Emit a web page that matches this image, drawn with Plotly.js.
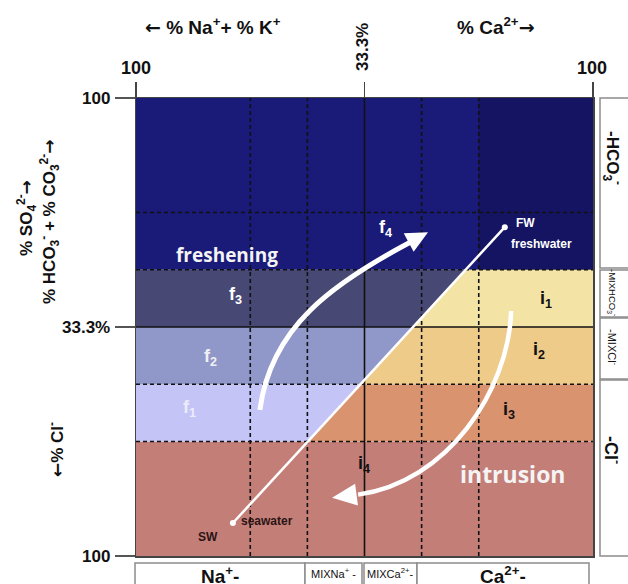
<!DOCTYPE html>
<html><head><meta charset="utf-8">
<script src="https://cdn.plot.ly/plotly-3.0.1.min.js"></script>
<style>html,body{margin:0;padding:0;background:#fff;} #chart{width:628px;height:584px;}</style>
</head><body><div id="chart"></div>
<script>
// ---- data (diagram scale 0..100; y: 0 = 100% Cl-, 100 = 100% HCO3-) ----
const bandEdges = [0, 25, 37.5, 50, 62.5, 100];
const freshLabels = ['f<sub>1</sub>', 'f<sub>2</sub>', 'f<sub>3</sub>', 'f<sub>4</sub>'];
const freshColors = ['#c4c4f6', '#9097c9', '#474873'];
const intrLabels = ['i<sub>4</sub>', 'i<sub>3</sub>', 'i<sub>2</sub>', 'i<sub>1</sub>'];
const intrColors = ['#d9936e', '#eecb89', '#f3e4a6'];
const topColor = '#1a1a78', topColorRight = '#141462', bottomColor = '#c47e78';
const gridDashed = [25, 37.5, 62.5, 75];
const gridSolid = [50];
const mixNames = ['SW', 'FW'];
const mixSub = ['seawater', 'freshwater'];
const mixX = [21.2, 80.7];
const mixY = [7.2, 71.8];
const cationBoxes = ['Na<sup>+</sup>-', 'MIXNa<sup>+</sup> -', 'MIXCa<sup>2+</sup>-', 'Ca<sup>2+</sup>-'];
const anionBoxes = ['-HCO<sub>3</sub><sup>-</sup>', '-MIXHCO<sub>3</sub><sup>-</sup>', '-MIXCl<sup>-</sup>', '-Cl<sup>-</sup>'];
// arrow guides (cubic bezier control points, diagram units)
const freshArrow = [[27.1, 31.9], [29.5, 50], [43, 59.5], [60.0, 68.5]];
const freshTip = [63.9, 70.7];
const intrArrow = [[82.1, 53.5], [81.5, 36], [68, 16], [48.6, 13.4]];
const intrTip = [42.9, 12.7];

const FONT = 'Liberation Sans, Arial, sans-serif';
const LA = '<span style="font-family:DejaVu Sans">←</span>';
const RA = '<span style="font-family:DejaVu Sans">→</span>';
function xb(y) { return mixX[0] + (y - mixY[0]) * (mixX[1] - mixX[0]) / (mixY[1] - mixY[0]); }
const shapes = [];
function rect(x0, x1, y0, y1, c) { shapes.push({type: 'rect', xref: 'x', yref: 'y', x0, x1, y0, y1, fillcolor: c, line: {width: 0}, layer: 'below'}); }
function poly(pts, c) {
  shapes.push({type: 'path', xref: 'x', yref: 'y', path: 'M' + pts.map(p => p[0].toFixed(3) + ',' + p[1].toFixed(3)).join('L') + 'Z',
    fillcolor: c, line: {width: 0}, layer: 'below'});
}
rect(0, 100, bandEdges[4], bandEdges[5], topColor);
rect(75, 100, bandEdges[4], bandEdges[5], topColorRight);
rect(0, 100, bandEdges[0], bandEdges[1], bottomColor);
for (let k = 1; k <= 3; k++) {
  const lo = bandEdges[k], hi = bandEdges[k + 1];
  poly([[0, lo], [xb(lo), lo], [xb(hi), hi], [0, hi]], freshColors[k - 1]);
  poly([[xb(lo), lo], [100, lo], [100, hi], [xb(hi), hi]], intrColors[k - 1]);
}
gridDashed.forEach(v => {
  shapes.push({type: 'line', xref: 'x', yref: 'y', x0: v, x1: v, y0: 0, y1: 100, line: {color: '#111', width: 1.6, dash: '4px,3px'}, layer: 'below'});
  shapes.push({type: 'line', xref: 'x', yref: 'y', x0: 0, x1: 100, y0: v, y1: v, line: {color: '#111', width: 1.6, dash: '4px,3px'}, layer: 'below'});
});
gridSolid.forEach(v => {
  shapes.push({type: 'line', xref: 'x', yref: 'y', x0: v, x1: v, y0: 0, y1: 100, line: {color: '#111', width: 1.6}, layer: 'below'});
  shapes.push({type: 'line', xref: 'x', yref: 'y', x0: 0, x1: 100, y0: v, y1: v, line: {color: '#111', width: 1.6}, layer: 'below'});
});
function arrow(c, tip, w, hl, hw) {
  shapes.push({type: 'path', xref: 'x', yref: 'y', path: 'M' + c[0].join(',') + 'C' + c[1].join(',') + ' ' + c[2].join(',') + ' ' + c[3].join(','),
    line: {color: '#ffffff', width: w}, fillcolor: 'rgba(0,0,0,0)', layer: 'above'});
  const dx = tip[0] - c[2][0], dy = tip[1] - c[2][1], L = Math.hypot(dx, dy);
  const ux = dx / L, uy = dy / L, bx = tip[0] - ux * hl, by = tip[1] - uy * hl;
  poly([[tip[0], tip[1]], [bx - uy * hw, by + ux * hw], [bx + uy * hw, by - ux * hw]], '#ffffff');
  shapes[shapes.length - 1].layer = 'above';
}
arrow(freshArrow, freshTip, 5, 4.8, 2.3);
arrow(intrArrow, intrTip, 4.5, 5.4, 2.4);

// side boxes (paper coords)
const PX0 = 136, PW = 457, PY0 = 556, PH = 458;
const px = v => (v - PX0) / PW, py = v => (PY0 - v) / PH;
const catEdges = [[135, 305], [305, 362], [364, 417], [417, 589]];
const anEdges = [[98, 268], [270, 317], [318, 379], [380, 556]];
catEdges.forEach(e => shapes.push({type: 'rect', xref: 'paper', yref: 'paper', x0: px(e[0]), x1: px(e[1]), y0: py(563), y1: py(592), line: {color: '#8c8c8c', width: 1.5}, fillcolor: '#fff'}));
anEdges.forEach(e => shapes.push({type: 'rect', xref: 'paper', yref: 'paper', x0: px(600), x1: px(632), y0: py(e[0]), y1: py(e[1]), line: {color: '#8c8c8c', width: 1.5}, fillcolor: '#fff'}));

const ann = [];
function A(text, x, y, o) { ann.push(Object.assign({text, x, y, xref: 'x', yref: 'y', showarrow: false, xanchor: 'center', yanchor: 'middle', font: {family: FONT, size: 14, color: '#111'}}, o || {})); }
function P(text, xpix, ypix, o) { A(text, px(xpix), py(ypix), Object.assign({xref: 'paper', yref: 'paper'}, o || {})); }
const bold = t => '<b>' + t + '</b>';
// in-plot labels
A(bold('freshening'), 20.0, 65.7, {font: {family: 'Open Sans, sans-serif', size: 19, color: '#f4f4f4'}});
A(bold('intrusion'), 82.5, 17.9, {font: {family: 'Open Sans, sans-serif', size: 23, color: '#f4f4f4'}});
const fPos = [[11.6, 32.3, '#ececfa'], [16.4, 43.4, '#f0f0f4'], [21.7, 56.8, '#ffffff'], [54.7, 71.4, '#ffffff']];
freshLabels.forEach((t, i) => A(bold(t), fPos[i][0], fPos[i][1], {font: {family: FONT, size: 18, color: fPos[i][2]}}));
const iPos = [[49.9, 19.9], [81.6, 31.7], [88.2, 44.8], [89.7, 55.9]];
intrLabels.forEach((t, i) => A(bold(t), iPos[i][0], iPos[i][1], {font: {family: FONT, size: 18, color: '#111'}}));
A(bold(mixNames[0]), 15.8, 4.1, {font: {family: FONT, size: 12, color: '#2a1414'}});
A(bold(mixSub[0]), 28.6, 7.6, {font: {family: FONT, size: 12, color: '#2a1414'}});
A(bold(mixNames[1]), 85.3, 72.7, {font: {family: FONT, size: 12, color: '#ffffff'}});
A(bold(mixSub[1]), 88.8, 68.1, {font: {family: FONT, size: 12, color: '#ffffff'}});
// axis labels
P(bold(LA + ' % Na<sup>+</sup>+ % K<sup>+</sup>'), 213, 26, {font: {family: FONT, size: 19, color: '#111'}});
P(bold('% Ca<sup>2+</sup>' + RA), 496, 26, {font: {family: FONT, size: 19, color: '#111'}});
P(bold('33.3%'), 363, 47, {textangle: -90, font: {family: FONT, size: 17, color: '#111'}});
P(bold('100'), 136, 68, {font: {family: FONT, size: 18, color: '#111'}});
P(bold('100'), 592, 68, {font: {family: FONT, size: 18, color: '#111'}});
P(bold('100'), 112, 98, {xanchor: 'right', font: {family: FONT, size: 17, color: '#111'}});
P(bold('33.3%'), 112, 327, {xanchor: 'right', font: {family: FONT, size: 17, color: '#111'}});
P(bold('100'), 112, 556, {xanchor: 'right', font: {family: FONT, size: 17, color: '#111'}});
P(bold('% SO<sub>4</sub><sup>2-</sup>' + RA), 27, 218, {textangle: -90, font: {family: FONT, size: 17, color: '#111'}});
P(bold('% HCO<sub>3</sub><sup>-</sup> + % CO<sub>3</sub><sup>2-</sup>' + RA), 49, 222, {textangle: -90, font: {family: FONT, size: 17, color: '#111'}});
P(bold(LA + '% Cl<sup>-</sup>'), 56, 450, {textangle: -90, font: {family: FONT, size: 17, color: '#111'}});
// box labels
const catPos = [[220, 575, 19, true], [333, 573, 11, false], [390, 573, 11, false], [503, 575, 19, true]];
cationBoxes.forEach((t, i) => P(catPos[i][3] ? bold(t) : t, catPos[i][0], catPos[i][1], {font: {family: FONT, size: catPos[i][2], color: '#111'}}));
const anPos = [[158, 17, true], [292, 9.5, false], [347, 11, false], [450, 18, true]];
anionBoxes.forEach((t, i) => P(anPos[i][2] ? bold(t) : t, 613, anPos[i][0], {textangle: 90, font: {family: FONT, size: anPos[i][1], color: '#111'}}));

const traces = [{
  type: 'scatter', mode: 'lines+markers', x: mixX, y: mixY, text: mixNames,
  line: {color: '#ffffff', width: 2.5}, marker: {color: '#ffffff', size: 6}, hoverinfo: 'text', cliponaxis: false
}];
const layout = {
  width: 628, height: 584, margin: {l: 136, r: 35, t: 98, b: 28},
  paper_bgcolor: '#fff', plot_bgcolor: '#fff', showlegend: false,
  xaxis: {range: [0, 100], side: 'top', showgrid: false, zeroline: false, ticks: 'outside', tickvals: [0, 50, 100], ticklen: 15,
    tickwidth: 1.5, tickcolor: '#444', showticklabels: false, showline: true, mirror: true, linecolor: '#444', linewidth: 1.5, fixedrange: true},
  yaxis: {range: [0, 100], showgrid: false, zeroline: false, ticks: 'outside', tickvals: [0, 50, 100], ticklen: 20,
    tickwidth: 1.5, tickcolor: '#555', showticklabels: false, showline: true, mirror: true, linecolor: '#444', linewidth: 1.5, fixedrange: true},
  shapes, annotations: ann
};
Plotly.newPlot('chart', traces, layout, {displayModeBar: false, staticPlot: true});
</script></body></html>
